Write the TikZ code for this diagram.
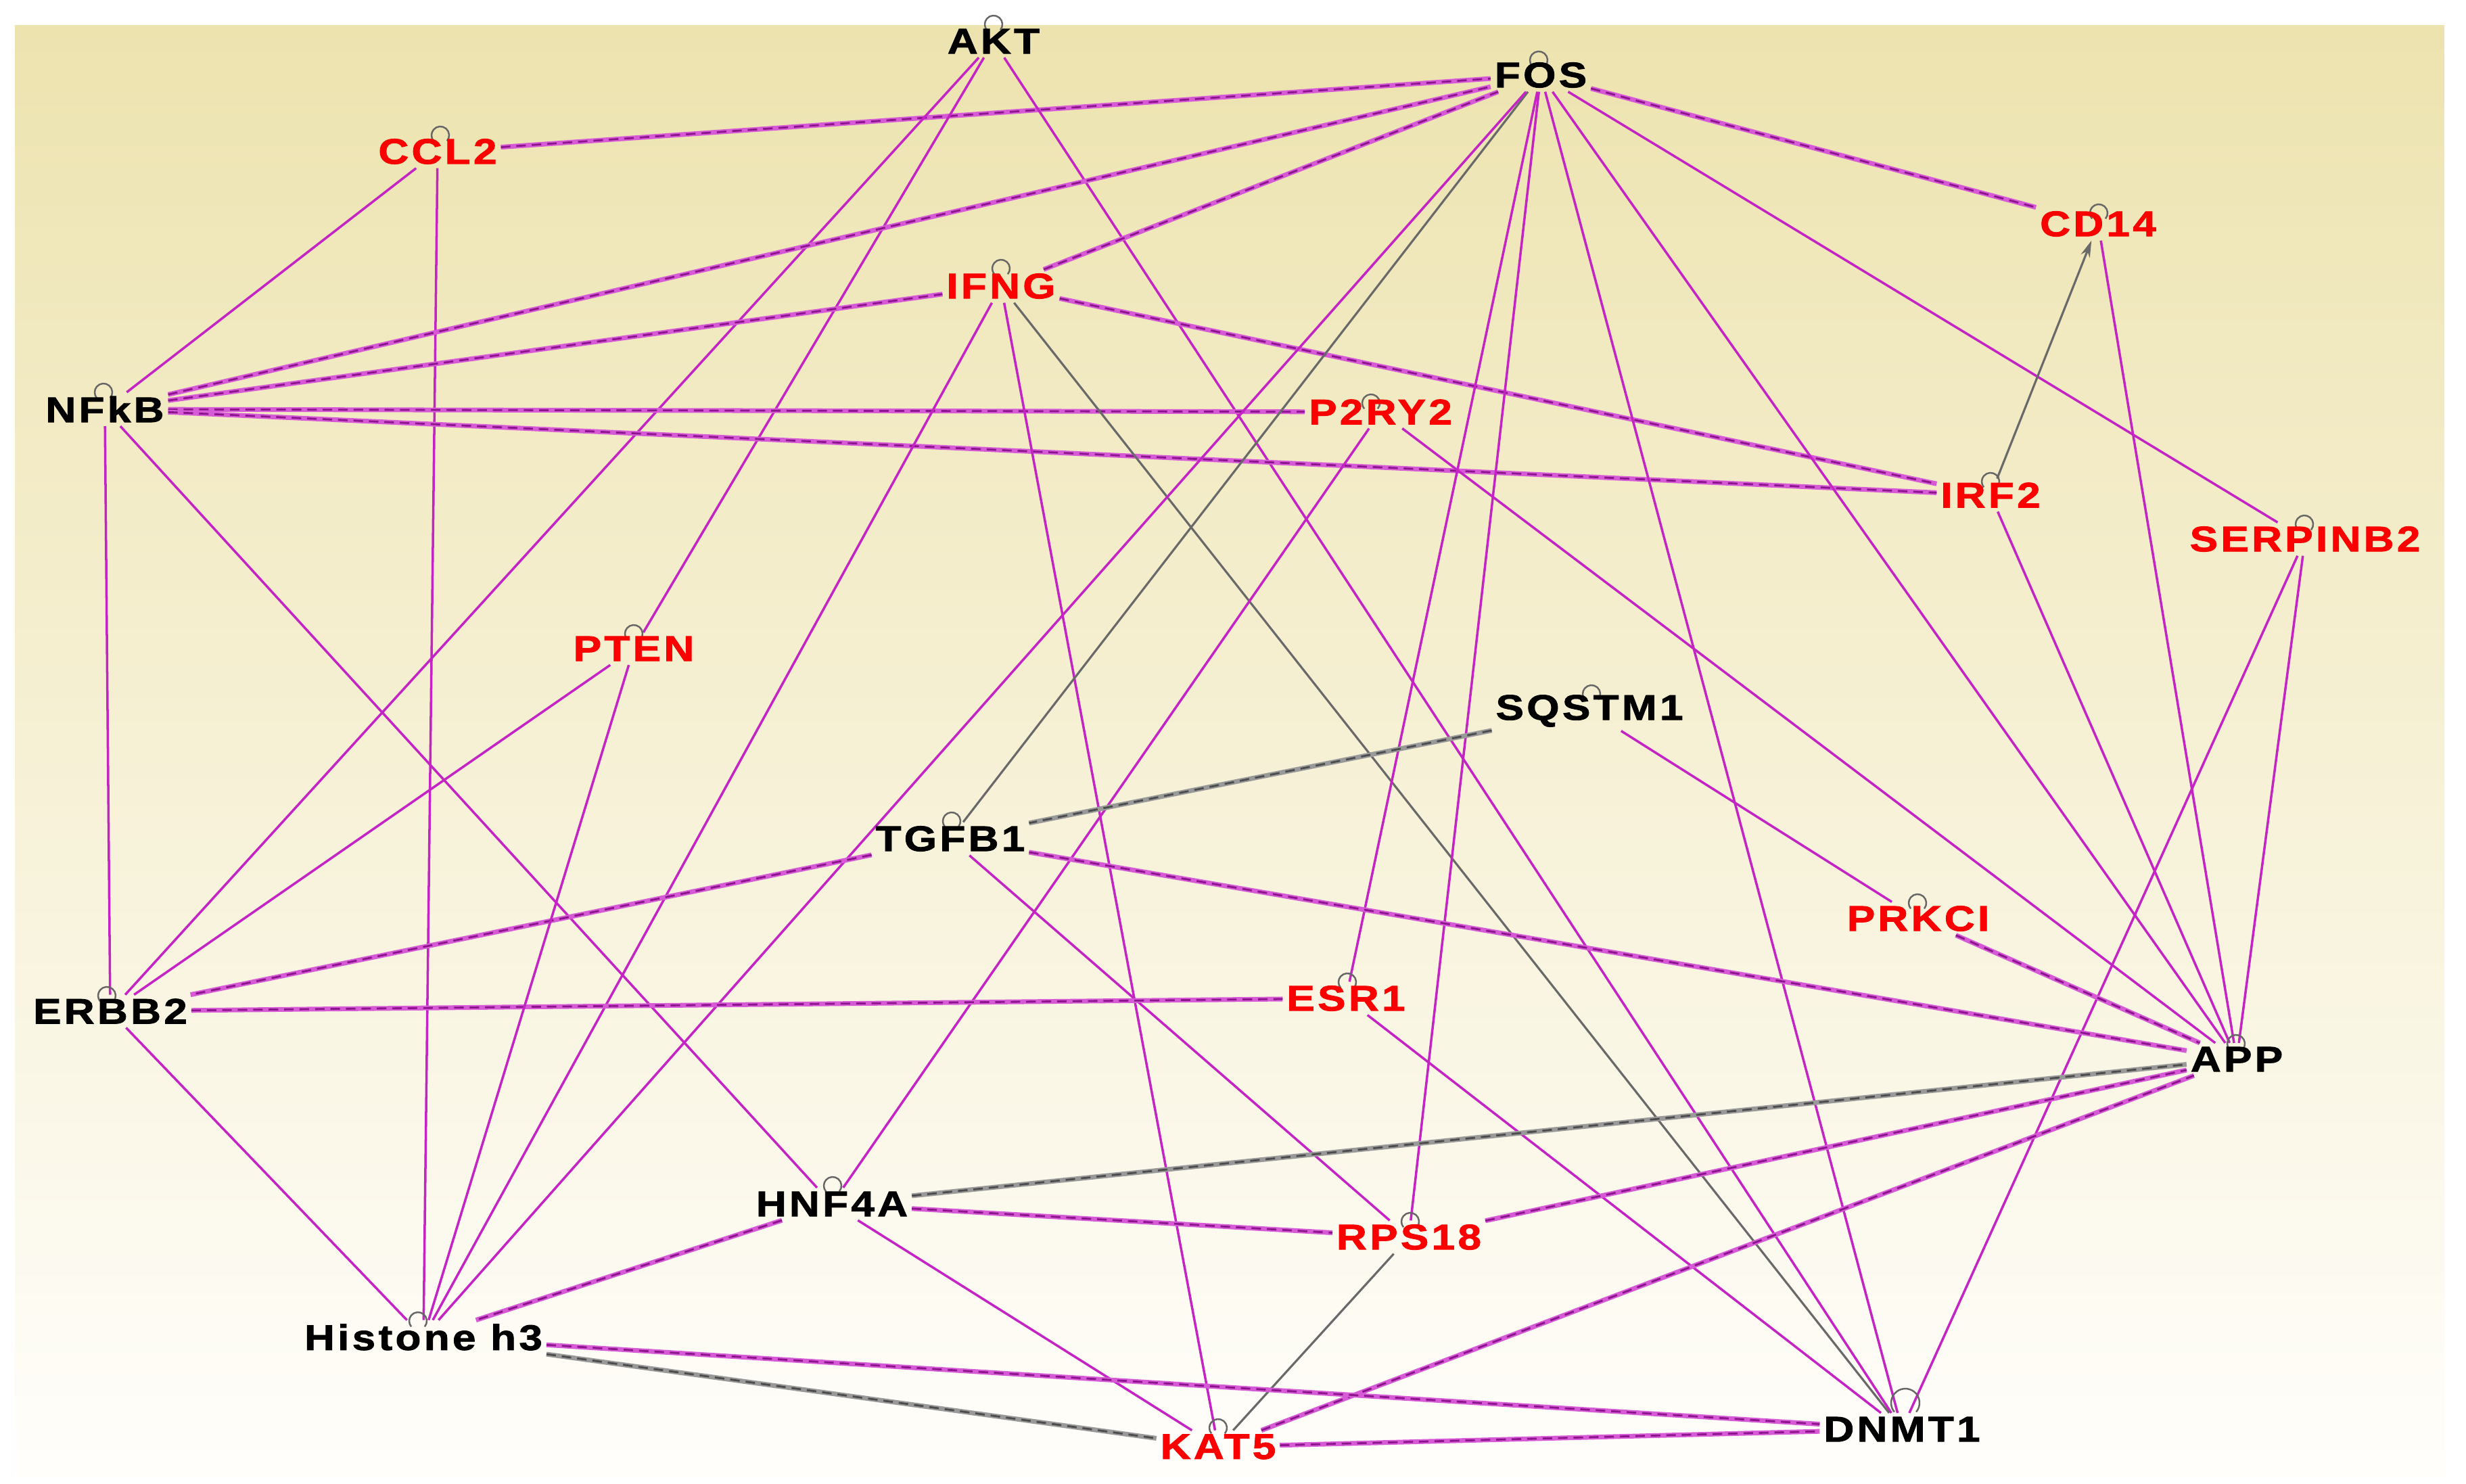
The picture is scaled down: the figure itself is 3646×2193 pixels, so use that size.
\documentclass[tikz,border=0pt]{standalone}
\usepackage{fontspec}
\newfontfamily\genefont{Liberation Sans}[FakeStretch=1.18,LetterSpace=8,FakeBold=1.6]
\usetikzlibrary{arrows.meta}
\pgfdeclarelayer{bglayer}
\pgfdeclarelayer{edgelayer}
\pgfsetlayers{bglayer,edgelayer,main}
\definecolor{mag}{RGB}{196,36,196}
\definecolor{magdk}{RGB}{140,20,140}
\definecolor{magl}{RGB}{214,90,214}
\definecolor{edgegray}{RGB}{105,105,105}
\definecolor{bgtop}{RGB}{237,227,175}
\definecolor{bgmid}{RGB}{245,239,214}
\definecolor{bgbot}{RGB}{255,254,251}
\definecolor{genered}{RGB}{250,0,0}
\begin{document}
\begin{tikzpicture}[x=0.01cm,y=-0.01cm,
  gene/.style={font=\genefont\bfseries\fontsize{15}{18}\selectfont, inner sep=1.5pt},
  redg/.style={gene,text=genered},
  blkg/.style={gene,text=black},
  magline/.style={draw=mag,line width=1pt},
  magdash/.style={draw=magl,line width=2pt,postaction={draw=magdk,line width=0.8pt,dash pattern=on 4pt off 2.5pt}},
  grayline/.style={draw=edgegray,line width=0.9pt},
  graydash/.style={draw=black!40,line width=2pt,postaction={draw=black!70,line width=0.8pt,dash pattern=on 4pt off 2.5pt}},
  loopc/.style={draw=black!60,line width=0.7pt}]
\useasboundingbox (0,0) rectangle (3646,2193);
\begin{pgfonlayer}{bglayer}
\fill[white] (0,0) rectangle (3646,2193);
\shade[top color=bgtop, middle color=bgmid, bottom color=bgbot] (22,37) rectangle (3614,2182);
\end{pgfonlayer}

% self-loop circles
\foreach \cx/\cy/\r in {1469/36/0.13, 2275/89/0.13, 651/200/0.13, 3103/315/0.13, 1480/397/0.13,
  153/580/0.13, 2027/596/0.13, 2943/712/0.13, 3407/775/0.13, 937/937/0.13, 2353/1026/0.13,
  1407/1214/0.13, 2835/1335/0.13, 158/1472/0.13, 1992/1452/0.13, 3306/1543/0.13, 1231/1753/0.13,
  2085/1806/0.13, 618/1953/0.13, 2817/2074/0.21, 1801/2111/0.13}
  \draw[loopc] (\cx,\cy) ++(-40:\r cm) arc[start angle=-40, end angle=220, radius=\r cm];

% gene labels
\node[blkg] (akt) at (1469,61) {AKT};
\node[blkg] (fos) at (2278,111) {FOS};
\node[redg] (ccl2) at (647,224) {CCL2};
\node[redg] (cd14) at (3102,331) {CD14};
\node[redg] (ifng) at (1480,423) {IFNG};
\node[blkg] (nfkb) at (155,605) {NFkB};
\node[redg] (p2ry2) at (2041,609) {P2RY2};
\node[redg] (irf2) at (2943,732) {IRF2};
\node[redg] (serpinb2) at (3408,797) {SERPINB2};
\node[redg] (pten) at (937,959) {PTEN};
\node[blkg] (sqstm1) at (2350,1051) {SQSTM1};
\node[blkg] (tgfb1) at (1405,1240) {TGFB1};
\node[redg] (prkci) at (2836,1358) {PRKCI};
\node[blkg] (erbb2) at (163,1495) {ERBB2};
\node[redg] (esr1) at (1990,1476) {ESR1};
\node[blkg] (app) at (3307,1566) {APP};
\node[blkg] (hnf4a) at (1230,1780) {HNF4A};
\node[redg] (rps18) at (2083,1829) {RPS18};
\node[blkg] (histone) at (626,1977) {Histone h3};
\node[blkg] (dnmt1) at (2812,2113) {DNMT1};
\node[redg] (kat5) at (1801,2139) {KAT5};

\begin{pgfonlayer}{edgelayer}
\draw[magdash] (ccl2) -- (fos);
\draw[magline] (ccl2) -- (nfkb);
\draw[magline] (ccl2) -- (histone);
\draw[magline] (akt) -- (erbb2);
\draw[magline] (akt) -- (pten);
\draw[magline] (akt) -- (dnmt1);
\draw[magdash] (nfkb) -- (fos);
\draw[magdash] (nfkb) -- (ifng);
\draw[magdash] (nfkb) -- (p2ry2);
\draw[magdash] (nfkb) -- (irf2);
\draw[magline] (nfkb) -- (erbb2);
\draw[magline] (nfkb) -- (hnf4a);
\draw[magdash] (ifng) -- (fos);
\draw[magdash] (ifng) -- (irf2);
\draw[magline] (ifng) -- (histone);
\draw[magline] (ifng) -- (kat5);
\draw[grayline] (ifng) -- (dnmt1);
\draw[grayline] (fos) -- (tgfb1);
\draw[magline] (fos) -- (histone);
\draw[magline] (fos) -- (esr1);
\draw[magline] (fos) -- (rps18);
\draw[magline] (fos) -- (dnmt1);
\draw[magdash] (fos) -- (cd14);
\draw[magline] (fos) -- (serpinb2);
\draw[magline] (fos) -- (app);
\draw[magline] (cd14) -- (app);
\draw[grayline,-{Stealth[length=7pt,width=4pt]}] (irf2) -- (cd14);
\draw[magline] (irf2) -- (app);
\draw[magline] (serpinb2) -- (app);
\draw[magline] (serpinb2) -- (dnmt1);
\draw[magline] (p2ry2) -- (app);
\draw[magline] (p2ry2) -- (hnf4a);
\draw[graydash] (sqstm1) -- (tgfb1);
\draw[magline] (sqstm1) -- (prkci);
\draw[magdash] (prkci) -- (app);
\draw[magdash] (tgfb1) -- (erbb2);
\draw[magdash] (tgfb1) -- (app);
\draw[magline] (tgfb1) -- (rps18);
\draw[magline] (erbb2) -- (pten);
\draw[magdash] (erbb2) -- (esr1);
\draw[magline] (erbb2) -- (histone);
\draw[magline] (pten) -- (histone);
\draw[magline] (esr1) -- (dnmt1);
\draw[graydash] (hnf4a) -- (app);
\draw[magdash] (hnf4a) -- (rps18);
\draw[magline] (hnf4a) -- (kat5);
\draw[magdash] (hnf4a) -- (histone);
\draw[magdash] (rps18) -- (app);
\draw[grayline] (rps18) -- (kat5);
\draw[magdash] (kat5) -- (app);
\draw[magdash] (kat5) -- (dnmt1);
\draw[magdash] (histone) -- (dnmt1);
\draw[graydash] (histone) -- (kat5);
\end{pgfonlayer}
\end{tikzpicture}
\end{document}
